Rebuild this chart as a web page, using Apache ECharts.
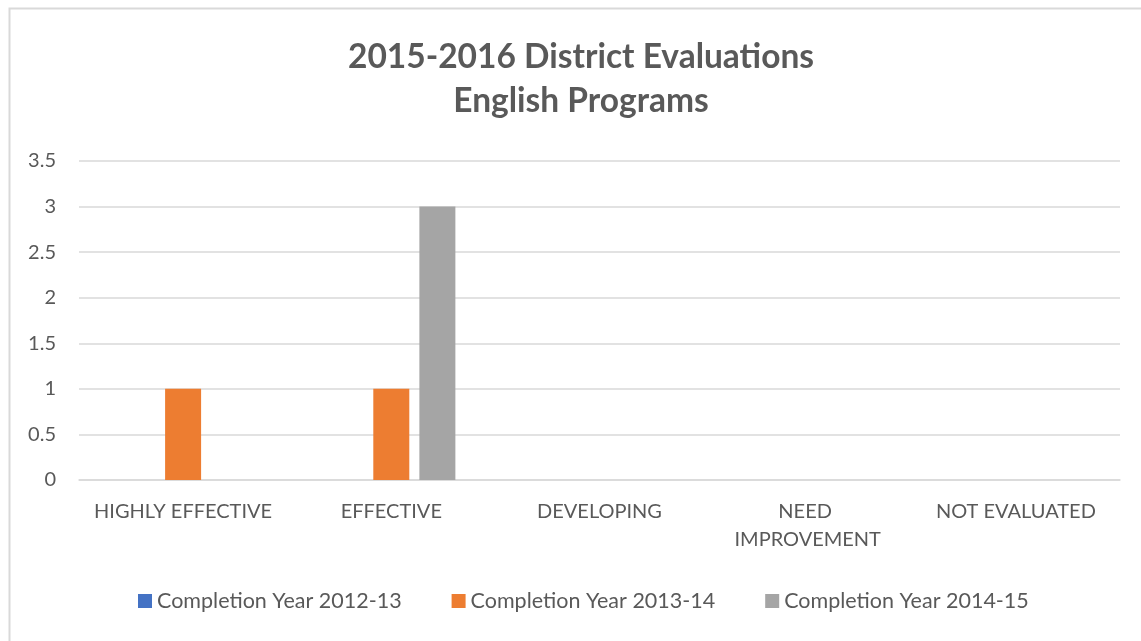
<!DOCTYPE html>
<html>
<head>
<meta charset="utf-8">
<script src="https://cdn.jsdelivr.net/npm/echarts@6/dist/echarts.min.js"></script>
<style>
html,body{margin:0;padding:0;background:#fff;}
#chart{width:1141px;height:641px;}
</style>
</head>
<body>
<div id="chart"></div>
<script>
var categories = ['HIGHLY EFFECTIVE', 'EFFECTIVE', 'DEVELOPING', 'NEED IMPROVEMENT', 'NOT EVALUATED'];
var seriesNames = ['Completion Year 2012-13', 'Completion Year 2013-14', 'Completion Year 2014-15'];
var values2012 = [0, 0, 0, 0, 0];
var values2013 = [1, 1, 0, 0, 0];
var values2014 = [0, 3, 0, 0, 0];
var titleLines = ['2015-2016 District Evaluations', 'English Programs'];
var colors = ['#4472C4', '#ED7D31', '#A5A5A5'];

var FONT = 'Lato';
var chart = echarts.init(document.getElementById('chart'), null, {renderer: 'canvas'});
function mk(name, data, color) {
  return {
    name: name, type: 'bar', data: data, barWidth: 36, barGap: '28%',
    itemStyle: {color: color}, animation: false
  };
}
var titleStyle = {fontFamily: FONT, fontWeight: 'bold', fontSize: 33.5, fill: '#595959', textAlign: 'center', textVerticalAlign: 'middle'};
chart.setOption({
  animation: false,
  color: colors,
  graphic: [{
    type: 'rect', left: 7, top: 6, silent: true,
    shape: {width: 1200, height: 700},
    style: {fill: 'none', stroke: '#d9d9d9', lineWidth: 2}
  }, {
    type: 'text', x: 581, y: 57, silent: true,
    style: Object.assign({text: titleLines[0]}, titleStyle)
  }, {
    type: 'text', x: 581, y: 101, silent: true,
    style: Object.assign({text: titleLines[1]}, titleStyle)
  }],
  legend: {
    bottom: 24, left: 133, itemWidth: 14, itemHeight: 14, itemGap: 50,
    icon: 'rect',
    textStyle: {fontFamily: FONT, fontSize: 21.5, color: '#595959'},
    data: seriesNames
  },
  grid: {left: 79, right: 21, top: 161, bottom: 161, containLabel: false},
  xAxis: {
    type: 'category', data: categories,
    axisLine: {lineStyle: {color: '#d9d9d9', width: 1.5}},
    axisTick: {show: false},
    axisLabel: {fontFamily: FONT, fontSize: 20, color: '#595959', margin: 18, interval: 0, width: 185, overflow: 'break', lineHeight: 28}
  },
  yAxis: {
    type: 'value', min: 0, max: 3.5, interval: 0.5,
    axisLine: {show: false}, axisTick: {show: false},
    splitLine: {lineStyle: {color: '#d9d9d9', width: 1.5}},
    axisLabel: {fontFamily: FONT, fontSize: 20, color: '#595959', margin: 23}
  },
  series: [mk(seriesNames[0], values2012, colors[0]), mk(seriesNames[1], values2013, colors[1]), mk(seriesNames[2], values2014, colors[2])]
});
</script>
</body>
</html>
